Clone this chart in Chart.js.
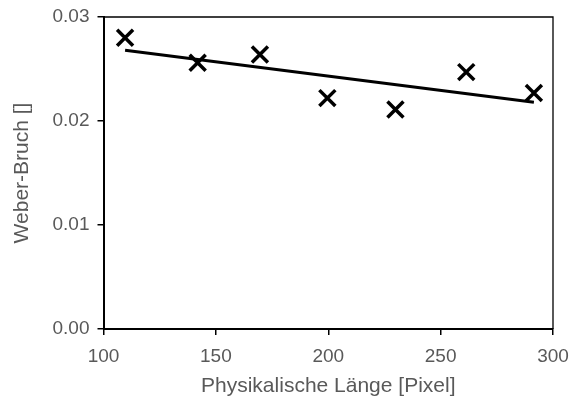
<!DOCTYPE html>
<html><head><meta charset="utf-8">
<script src="https://cdn.jsdelivr.net/npm/chart.js@4"></script>
<style>html,body{margin:0;padding:0;background:#fff}#wrap{width:574px;height:403px}</style>
</head><body><div id="wrap"><canvas id="c" width="574" height="403"></canvas></div>
<script>
const lengthPx = [109.6, 141.9, 169.6, 199.6, 229.9, 261.4, 291.5];
const weberFraction = [0.0280, 0.0256, 0.0264, 0.0222, 0.0211, 0.0247, 0.0227];
const trendX = [109.6, 291.5];
const trendY = [0.0268, 0.0218];
const xTicks = [100, 150, 200, 250, 300];
const yTicks = [0, 0.01, 0.02, 0.03];
const xTitle = 'Physikalische Länge [Pixel]';
const yTitle = 'Weber-Bruch []';

const gray = '#595959';
const tickFont = {family: 'Liberation Sans, Arial, sans-serif', size: 19};
const titleFont = {family: 'Liberation Sans, Arial, sans-serif', size: 21};

const frame = {
  id: 'frame',
  beforeDatasetsDraw(chart) {
    const a = chart.chartArea, ctx = chart.ctx;
    ctx.save();
    ctx.strokeStyle = '#000';
    ctx.lineWidth = 1.3;
    ctx.beginPath();
    ctx.moveTo(a.left, a.top);
    ctx.lineTo(a.right, a.top);
    ctx.lineTo(a.right, a.bottom);
    ctx.stroke();
    ctx.restore();
  }
};

new Chart(document.getElementById('c'), {
  data: {
    datasets: [
      {
        type: 'scatter',
        data: lengthPx.map((x, i) => ({x, y: weberFraction[i]})),
        pointStyle: 'crossRot',
        pointRadius: 11.3,
        pointBorderWidth: 3.5,
        borderColor: '#000',
        backgroundColor: '#000',
        clip: false
      },
      {
        type: 'line',
        data: trendX.map((x, i) => ({x, y: trendY[i]})),
        borderColor: '#000',
        borderWidth: 3,
        pointRadius: 0,
        fill: false
      }
    ]
  },
  options: {
    responsive: false,
    animation: false,
    devicePixelRatio: 1,
    layout: {autoPadding: false, padding: {top: 17, right: 21, left: 0, bottom: 0}},
    plugins: {legend: {display: false}, tooltip: {enabled: false}},
    scales: {
      x: {
        type: 'linear', min: 100, max: 300,
        afterBuildTicks: s => { s.ticks = xTicks.map(v => ({value: v})); },
        afterFit: s => { s.height = 74; s.paddingLeft = 0; s.paddingRight = 0; },
        ticks: {color: gray, font: tickFont, padding: 10, maxRotation: 0, callback: v => String(v)},
        grid: {display: true, drawOnChartArea: false, drawTicks: true, tickLength: 6, color: '#000', lineWidth: 1.5},
        border: {display: true, color: '#000', width: 2},
        title: {display: true, text: xTitle, color: gray, font: titleFont, padding: {top: 2, bottom: 4}}
      },
      y: {
        type: 'linear', min: 0, max: 0.03,
        afterBuildTicks: s => { s.ticks = yTicks.map(v => ({value: v})); },
        afterFit: s => { s.width = 103.5; s.paddingTop = 0; s.paddingBottom = 0; },
        ticks: {color: gray, font: tickFont, padding: 8, callback: v => v.toFixed(2)},
        grid: {display: true, drawOnChartArea: false, drawTicks: true, tickLength: 6, color: '#000', lineWidth: 1.5},
        border: {display: true, color: '#000', width: 2},
        title: {display: true, text: yTitle, color: gray, font: titleFont, padding: {top: 10, bottom: 4}}
      }
    }
  },
  plugins: [frame]
});
</script>
</body></html>
